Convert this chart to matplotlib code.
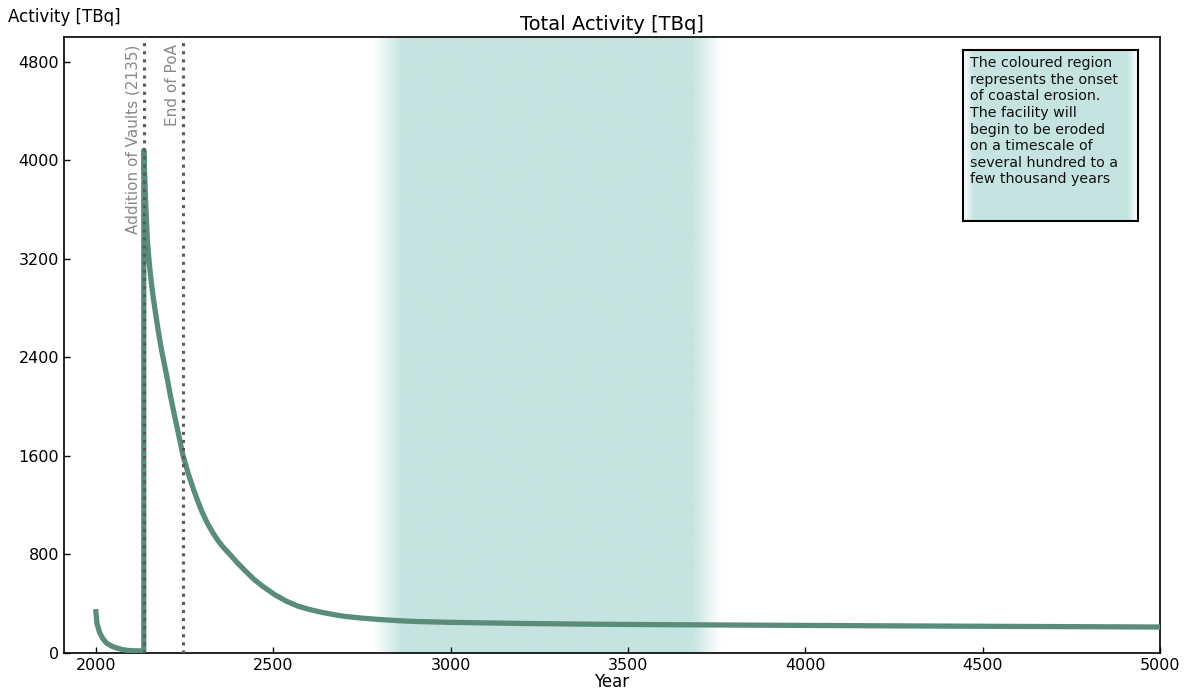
import numpy as np
import matplotlib
matplotlib.use("Agg")
import matplotlib.pyplot as plt
from matplotlib.colors import to_rgb

# total activity
years = [2000, 2003, 2011, 2020, 2030, 2045, 2060, 2075, 2090, 2110, 2135,
         2135, 2140, 2145, 2150, 2155, 2160, 2166, 2175, 2185, 2199, 2210,
         2220, 2232, 2245, 2260, 2275, 2285, 2300, 2315, 2330, 2345, 2360,
         2378, 2398, 2420, 2445, 2471, 2505, 2539, 2570, 2600, 2632, 2670,
         2700, 2750, 2800, 2850, 2900, 3000, 3200, 3400, 3600, 3800, 4000,
         4500, 5000]
activity = [335, 240, 162, 115, 81, 55, 40, 28, 21, 18, 17,
            4080, 3680, 3350, 3180, 3040, 2920, 2800, 2630, 2460, 2260, 2090,
            1950, 1790, 1610, 1460, 1330, 1250, 1140, 1050, 975, 910, 855,
            800, 735, 670, 600, 540, 472, 418, 380, 355, 333, 312,
            298, 283, 272, 263, 256, 249, 240, 234, 230, 227, 224,
            217, 211]

vault_year = 2135
poa_year = 2245
erosion_start, erosion_end = 2780, 3760
fade = 80

shade = "#c5e4e0"
line_col = "#5a8c7a"

fig = plt.figure(figsize=(11.89, 6.97), dpi=100)
ax = fig.add_axes([0.0538, 0.0631, 0.9218, 0.8838])

# coloured erosion band with soft edges
xs = np.linspace(erosion_start, erosion_end, 400)
alpha = np.clip(np.minimum(xs - erosion_start, erosion_end - xs) / fade, 0, 1)
band = np.zeros((1, len(xs), 4))
band[0, :, :3] = to_rgb(shade)
band[0, :, 3] = alpha
ax.imshow(band, extent=[erosion_start, erosion_end, 0, 5000], aspect="auto",
          interpolation="bilinear", zorder=0)

ax.plot(years, activity, color=line_col, lw=3.8, zorder=3,
        solid_joinstyle="round")

for yr in (vault_year, poa_year):
    ax.axvline(yr, color="#5a5a5a", ls=":", lw=2.2, zorder=4)
ax.text(vault_year - 8, 4940, "Addition of Vaults (2135)", rotation=90,
        ha="right", va="top", color="#888888", fontsize=11)
ax.text(poa_year - 8, 4940, "End of PoA", rotation=90,
        ha="right", va="top", color="#888888", fontsize=11)

ax.set_xlim(1910, 5000)
ax.set_ylim(0, 5000)
ax.set_xticks(range(2000, 5001, 500))
ax.set_yticks(range(0, 4801, 800))
ax.tick_params(direction="in", labelsize=11.5, length=4, width=1)
for s in ax.spines.values():
    s.set_linewidth(1.2)
ax.set_xlabel("Year", fontsize=12, labelpad=0)
ax.set_title("Total Activity [TBq]", fontsize=14, pad=5)
fig.text(0.007, 0.976, "Activity [TBq]", fontsize=12, ha="left", va="center")

# note box with the same faded fill
box = fig.add_axes([963 / 1189, 1 - 221 / 697, 175 / 1189, 171 / 697])
bx = np.linspace(0, 1, 200)
ba = np.clip(np.minimum(bx, 1 - bx) / 0.06, 0, 1)
grad = np.zeros((1, len(bx), 4))
grad[0, :, :3] = to_rgb(shade)
grad[0, :, 3] = ba
box.imshow(grad, extent=[0, 1, 0, 1], aspect="auto", interpolation="bilinear")
box.set_xticks([])
box.set_yticks([])
for s in box.spines.values():
    s.set_linewidth(1.5)
box.text(0.04, 0.965, "The coloured region\nrepresents the onset\nof coastal erosion.\n"
         "The facility will\nbegin to be eroded\non a timescale of\n"
         "several hundred to a\nfew thousand years",
         transform=box.transAxes, ha="left", va="top", fontsize=10.3,
         linespacing=1.24, color="#111111")

fig.savefig("out.png", dpi=100)
